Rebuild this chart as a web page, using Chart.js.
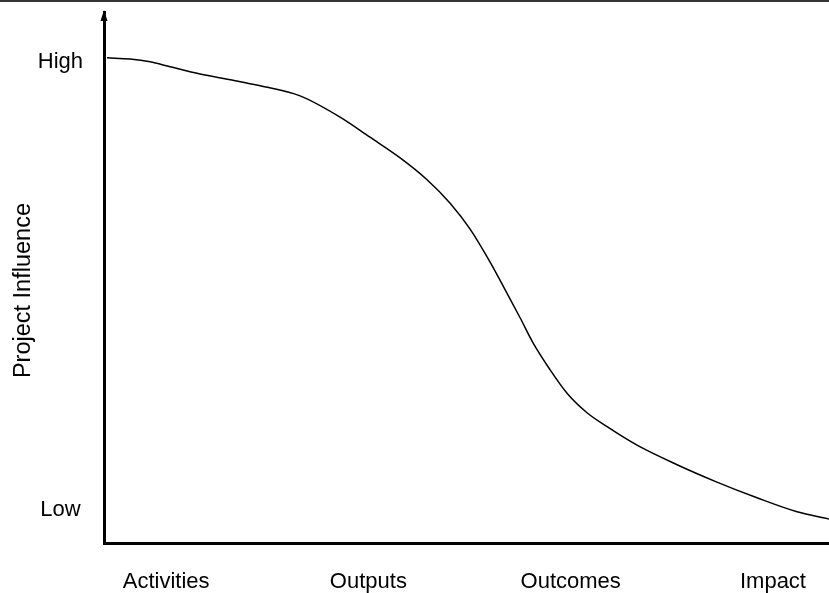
<!DOCTYPE html>
<html>
<head>
<meta charset="utf-8">
<script src="https://cdn.jsdelivr.net/npm/chart.js@4/dist/chart.umd.min.js"></script>
<style>
    html, body { margin: 0; padding: 0; background: #fff; }
    .wrap { width: 829px; height: 593px; position: relative; }
    .topline { position: absolute; left: 0; top: 0; width: 829px; height: 2px; background: #333; }
</style>
</head>
<body>
<div class="wrap">
    <canvas id="influenceChart" width="829" height="593"></canvas>
    <div class="topline"></div>
</div>
<script>
// stages along the x axis (tick positions 1..4)
const stages = ['Activities', 'Outputs', 'Outcomes', 'Impact'];
const stageTicks = [1, 2, 3, 4];

// influence levels on the y axis
const levelLabels = ['Low', 'High'];
const levelTicks = [10, 90];

// curve (x in stage units, y in influence units)
const curveX = [0.708, 0.822, 0.921, 1.020, 1.168, 1.331, 1.465, 1.662, 1.860, 2.008,
    2.157, 2.290, 2.404, 2.502, 2.601, 2.685, 2.750, 2.814, 2.898, 2.982,
    3.081, 3.180, 3.328, 3.526, 3.723, 3.921, 4.119, 4.277];
const curveY = [90.8, 90.6, 90.1, 89.2, 87.9, 86.8, 85.8, 84.0, 80.2, 76.6,
    72.9, 69.0, 64.8, 60.2, 54.3, 48.7, 44.3, 39.8, 35.0, 30.8,
    27.3, 24.8, 21.5, 18.0, 14.9, 12.1, 9.6, 8.3];

const points = curveX.map(function(x, i) { return { x: x, y: curveY[i] }; });

// arrow head on top of the y axis
const axisArrow = {
    id: 'axisArrow',
    afterDraw: function(chart) {
        const ctx = chart.ctx;
        const x = chart.chartArea.left;
        const top = chart.chartArea.top;
        ctx.save();
        ctx.fillStyle = '#000';
        ctx.beginPath();
        ctx.moveTo(x, top - 2);
        ctx.lineTo(x - 3.5, top + 9);
        ctx.lineTo(x + 3.5, top + 9);
        ctx.closePath();
        ctx.fill();
        ctx.restore();
    }
};

const ctx = document.getElementById('influenceChart');
ctx.chart = new Chart(ctx, {
    type: 'line',
    data: {
        datasets: [{
            data: points,
            borderColor: '#000',
            borderWidth: 1.5,
            pointRadius: 0,
            fill: false,
            cubicInterpolationMode: 'monotone'
        }]
    },
    options: {
        responsive: false,
        animation: false,
        layout: { padding: { top: 12, right: 0, left: 0, bottom: 0 } },
        plugins: {
            legend: { display: false },
            tooltip: { enabled: false }
        },
        scales: {
            x: {
                type: 'linear',
                min: 0.693,
                max: 4.277,
                grid: { display: false },
                border: { display: true, width: 3, color: '#000' },
                afterBuildTicks: function(scale) {
                    scale.ticks = stageTicks.map(function(v) { return { value: v }; });
                },
                afterFit: function(scale) {
                    scale.height = 50;
                    scale.paddingLeft = 0;
                    scale.paddingRight = 0;
                },
                ticks: {
                    padding: 18,
                    color: '#000',
                    font: { family: 'Liberation Sans, Arial, sans-serif', size: 22 },
                    callback: function(value) {
                        const i = stageTicks.indexOf(value);
                        return i >= 0 ? stages[i] : '';
                    }
                }
            },
            y: {
                type: 'linear',
                min: 4,
                max: 99,
                grid: { display: false },
                border: { display: true, width: 3, color: '#000' },
                afterBuildTicks: function(scale) {
                    scale.ticks = levelTicks.map(function(v) { return { value: v }; });
                },
                afterFit: function(scale) {
                    scale.width = 104;
                    scale.paddingTop = 0;
                    scale.paddingBottom = 0;
                },
                title: {
                    display: true,
                    // trailing spaces nudge the rotated title a bit lower, like the original
                    text: 'Project Influence    ',
                    color: '#000',
                    padding: { top: 9, bottom: 0 },
                    font: { family: 'Liberation Sans, Arial, sans-serif', size: 23.5 }
                },
                ticks: {
                    padding: 13,
                    crossAlign: 'center',
                    color: '#000',
                    font: { family: 'Liberation Sans, Arial, sans-serif', size: 22 },
                    callback: function(value) {
                        const i = levelTicks.indexOf(value);
                        return i >= 0 ? levelLabels[i] : '';
                    }
                }
            }
        }
    },
    plugins: [axisArrow]
});
</script>
</body>
</html>
